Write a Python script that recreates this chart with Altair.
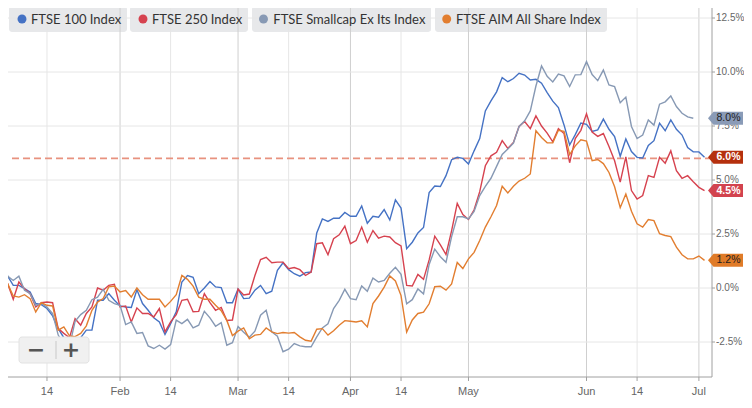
import altair as alt
import pandas as pd

# ---------------- data ----------------
series_names = ["FTSE 100 Index", "FTSE 250 Index", "FTSE Smallcap Ex Its Index", "FTSE AIM All Share Index"]
series_colors = ["#4572C4", "#D6424F", "#8799B4", "#E27E30"]

# trading-day index 0 = 2 Jan 2024; values in % change since start
ftse100 = [0.0, 0.12, 0.55, 0.12, 0.12, -0.03, -0.18, -0.72, -0.77, -0.95,
           -1.29, -1.88, -2.3, -2.5, -2.4, -2.3, -1.95, -1.95, -0.57, -0.57,
           -0.26, -0.57, -0.83, -0.88, -0.9, -0.08, -0.72, -1.03, -1.38, -1.57,
           -2.15, -1.65, -1.1, 0.28, 0.58, 0.5, -0.26, 0.0, 0.3, 0.05,
           0.02, -0.68, -0.68, -0.05, -0.49, -0.47, -0.1, 0.12, -0.26, -0.15,
           0.82, 1.17, 0.85, 0.66, 0.55, 0.71, 0.74, 2.55, 3.2, 3.08,
           3.23, 3.23, 3.5, 3.32, 3.32, 3.8, 3.0, 3.32, 3.28, 3.63,
           3.15, 4.08, 3.7, 1.82, 2.12, 2.55, 2.8, 4.42, 4.72, 4.7,
           5.2, 5.94, 6.05, 6.0, 5.74, 6.35, 6.92, 8.2, 8.66, 9.08,
           9.74, 9.55, 9.7, 9.94, 9.86, 9.63, 9.66, 9.48, 9.05, 8.65,
           8.35, 7.55, 6.62, 7.1, 7.64, 7.58, 7.25, 7.32, 7.82, 7.35,
           7.01, 6.1, 6.9, 6.32, 6.05, 6.02, 6.6, 6.82, 7.63, 7.28,
           7.78, 7.35, 7.08, 6.5, 6.3, 6.3, 6.05]
ftse250 = [0.0, 0.09, 0.2, -0.52, 0.28, -0.03, -0.26, -0.88, -0.68, -0.65,
           -0.68, -1.88, -2.1, -2.3, -1.42, -1.72, -1.18, -0.88, 0.0, -0.1,
           0.12, 0.17, -0.88, -0.83, -1.57, -0.92, -1.18, -1.18, -1.34, -0.95,
           -2.03, -1.57, -1.23, -0.57, -0.52, -1.1, -1.08, -0.26, -0.68, -1.03,
           -0.9, -1.5, -1.48, -0.05, -0.32, -0.28, 0.58, 1.32, 1.42, 1.17,
           1.2, 1.2, 0.89, 0.95, 0.85, 0.58, 0.74, 2.05, 2.09, 1.54,
           2.28, 2.46, 2.86, 2.05, 2.2, 2.82, 2.12, 2.66, 2.31, 2.4,
           2.36, 2.1, 1.95, 0.12, 0.09, 0.63, 0.4, 1.3, 2.4, 2.0,
           1.55, 2.66, 3.92, 3.4, 3.17, 3.62, 4.46, 5.66, 6.12, 6.28,
           6.82, 6.46, 6.74, 7.48, 7.71, 7.38, 7.97, 7.5, 7.17, 6.77,
           7.38, 7.15, 5.8, 6.92, 7.3, 8.07, 7.22, 7.02, 7.15, 6.55,
           5.89, 4.9, 6.07, 4.51, 4.12, 4.28, 5.2, 5.12, 6.05, 5.78,
           6.35, 5.43, 5.08, 5.2, 4.92, 4.66, 4.51]
smallcap = [0.0, 0.2, 0.55, 0.35, 0.55, -0.1, -0.26, -0.8, -0.72, -0.88,
            -1.18, -2.18, -2.6, -2.7, -1.54, -1.23, -1.03, -0.54, -0.42, -0.06,
            -0.57, -0.72, -0.8, -1.69, -1.57, -2.1, -2.06, -2.68, -2.8, -2.65,
            -2.83, -2.62, -1.49, -1.65, -1.45, -1.85, -1.72, -1.08, -1.38, -1.77,
            -1.6, -2.65, -2.53, -1.78, -2.05, -2.28, -2.0, -1.26, -1.03, -2.03,
            -2.23, -2.95, -2.83, -2.57, -2.68, -2.72, -2.72, -2.26, -1.85, -1.66,
            -0.95, -0.57, -0.06, -0.49, -0.54, 0.09, -0.15, 0.46, 0.28, 0.35,
            0.68, 0.96, 0.63, -0.73, -0.54, -0.04, -0.27, 1.09, 1.8, 1.45,
            1.19, 2.38, 3.3, 3.3, 3.2, 3.55, 4.28, 4.71, 5.08, 5.63,
            6.18, 6.43, 6.71, 7.48, 7.74, 8.2, 9.35, 10.28, 9.8, 9.54,
            9.9, 9.82, 9.33, 9.87, 9.88, 10.48, 9.88, 9.6, 10.09, 9.4,
            9.32, 8.58, 8.84, 7.48, 6.92, 7.08, 7.78, 7.54, 8.51, 8.62,
            8.89, 8.4, 8.09, 7.92, 7.86]
aim = [0.0, 0.09, 0.2, -0.37, -0.42, -0.31, -0.49, -1.11, -0.68, -0.8,
       -0.83, -1.95, -1.8, -2.22, -2.25, -2.1, -1.75, -1.03, -0.65, -0.49,
       0.05, 0.09, -0.18, -0.12, -0.42, 0.0, -0.31, -0.52, -0.52, -0.52,
       -0.88, -0.62, -0.31, 0.58, 0.4, 0.09, -0.42, -0.52, -0.52, -0.8,
       -1.05, -1.5, -2.2, -2.0, -1.85, -2.35, -2.18, -2.15, -1.85, -2.03,
       -2.11, -2.06, -2.09, -2.06, -2.26, -2.42, -2.46, -1.91, -1.88, -2.18,
       -1.98, -1.72, -1.51, -1.54, -1.57, -1.52, -1.8, -0.72, -0.37, 0.04,
       0.56, 0.33, -0.35, -2.04, -1.48, -1.18, -1.12, -0.73, 0.06, 0.08,
       -0.1, 0.19, 1.18, 0.9, 1.35, 1.65, 2.2, 2.82, 3.3, 3.82,
       4.71, 4.4, 4.71, 4.95, 5.08, 5.28, 7.28, 6.97, 6.72, 6.72,
       7.3, 7.25, 6.18, 6.58, 6.86, 6.8, 5.89, 5.95, 5.76, 5.35,
       4.69, 3.72, 4.35, 3.55, 2.97, 2.82, 3.17, 3.12, 2.51, 2.43,
       2.38, 1.89, 1.54, 1.35, 1.35, 1.48, 1.28]
series_values = [ftse100, ftse250, smallcap, aim]

# end-of-line value tags (label text values as displayed)
end_label_values = [6.0, 4.5, 8.0, 1.2]
tag_fill = ["#B5300E", "#D2434E", "#8A9BB7", "#E07B28"]
tag_text_color = ["#FFFFFF", "#FFFFFF", "#1E1E1E", "#1E1E1E"]
target_level = [6.0]

x_tick_index = [9, 22, 31, 43, 52, 63, 72, 84, 105, 114, 125]
x_tick_labels = ["14", "Feb", "14", "Mar", "14", "Apr", "14", "May", "Jun", "14", "Jul"]
y_tick_values = [-2.5, 0.0, 2.5, 5.0, 7.5, 10.0, 12.5]

# ---------------- layout / style ----------------
W, H = 704, 369
PX_PER_DAY = 5.62
FONT = "Liberation Sans, Arial, sans-serif"
LEG_FONT = "Lato, Open Sans, sans-serif"
AXIS_GRAY = "#A0A0A0"
xs = alt.Scale(domain=[2.064, 2.064 + W / PX_PER_DAY], nice=False, zero=False)
ys = alt.Scale(domain=[-4.12, 12.963], nice=False, zero=False)

legend_box_x0 = [1, 122, 244, 427]
legend_box_x1 = [119, 240, 423, 599]
legend_dot_x = [14, 135, 255.5, 438.7]
legend_text_x = [23, 144, 265.3, 448]

TAG_PATH = "M -1 0 L -0.686 -0.371 L 1 -0.371 L 1 0.371 L -0.686 0.371 Z"

grid_df = pd.DataFrame({"idx": x_tick_index, "label": x_tick_labels})
major_df = grid_df[grid_df["label"] != "14"]
minor_df = grid_df[grid_df["label"] == "14"]
ygrid_df = pd.DataFrame({"v": y_tick_values,
                         "label": [f"{v:.1f}%" for v in y_tick_values]})

X = lambda f: alt.X(f, scale=xs, axis=None)
Y = lambda f: alt.Y(f, scale=ys, axis=None)
one = pd.DataFrame({"a": [0]})

layers = []

# legend boxes (behind grid)
for k in range(4):
    layers.append(
        alt.Chart(one).mark_rect(fill="#E4E5E8", opacity=0.9, cornerRadius=3).encode(
            x=alt.value(legend_box_x0[k]), x2=alt.value(legend_box_x1[k]),
            y=alt.value(-2), y2=alt.value(24))
    )

# grid
layers.append(alt.Chart(minor_df).mark_rule(color="#E6E6E6", strokeWidth=1).encode(x=X("idx:Q")))
layers.append(alt.Chart(major_df).mark_rule(color="#CFCFCF", strokeWidth=1).encode(x=X("idx:Q")))
layers.append(alt.Chart(ygrid_df).mark_rule(color="#E6E6E6", strokeWidth=1).encode(y=Y("v:Q")))

# axes (domain lines, ticks, labels)
layers.append(alt.Chart(one).mark_rule(color=AXIS_GRAY, strokeWidth=1).encode(
    x=alt.value(0), x2=alt.value(W), y=alt.value(H)))
layers.append(alt.Chart(one).mark_rule(color=AXIS_GRAY, strokeWidth=1).encode(
    x=alt.value(W), y=alt.value(0), y2=alt.value(H)))
layers.append(alt.Chart(grid_df).mark_rule(color=AXIS_GRAY, strokeWidth=1).encode(
    x=X("idx:Q"), y=alt.value(H), y2=alt.value(H + 4)))
layers.append(alt.Chart(ygrid_df).mark_rule(color=AXIS_GRAY, strokeWidth=1).encode(
    y=Y("v:Q"), x=alt.value(W), x2=alt.value(W + 3)))
layers.append(alt.Chart(grid_df).mark_text(align="center", baseline="top", font=FONT,
                                           fontSize=11, color="#666666").encode(
    x=X("idx:Q"), y=alt.value(H + 9), text="label:N"))
layers.append(alt.Chart(ygrid_df).mark_text(align="left", baseline="middle", font=FONT,
                                            fontSize=10, color="#666666").encode(
    y=Y("v:Q"), x=alt.value(W + 4), text="label:N"))

# target dashed line
layers.append(alt.Chart(pd.DataFrame({"target": target_level})).mark_rule(
    color="#E8927F", strokeWidth=1.6, strokeDash=[7, 4]).encode(y=Y("target:Q")))

# series lines
for k in range(4):
    vals = series_values[k]
    df = pd.DataFrame({"idx": list(range(len(vals))), "value": vals})
    layers.append(
        alt.Chart(df).mark_line(color=series_colors[k], strokeWidth=1.4, clip=True).encode(
            x=X("idx:Q"), y=Y("value:Q"))
    )

# legend dots and texts
for k in range(4):
    d = pd.DataFrame({"name": [series_names[k]]})
    layers.append(alt.Chart(d).mark_circle(size=80, opacity=1, color=series_colors[k]).encode(
        x=alt.value(legend_dot_x[k]), y=alt.value(11)))
    layers.append(alt.Chart(d).mark_text(align="left", baseline="middle", font=LEG_FONT,
                                         fontSize=13, color="#333333").encode(
        x=alt.value(legend_text_x[k]), y=alt.value(11.5), text="name:N"))

# zoom buttons
btn = pd.DataFrame({"t": ["\u2212", "+"], "bx": [28, 63]})
layers.append(alt.Chart(one).mark_rect(
    fill="#F0F0F0", stroke="#E2E2E2", strokeWidth=1, cornerRadius=3).encode(
    x=alt.value(11), x2=alt.value(81), y=alt.value(329), y2=alt.value(355)))
layers.append(alt.Chart(one).mark_rule(color="#C8C8C8", strokeWidth=1).encode(
    x=alt.value(48), y=alt.value(333), y2=alt.value(351)))
for k in range(2):
    layers.append(alt.Chart(btn.iloc[[k]]).mark_text(
        align="center", baseline="middle", font="DejaVu Sans", fontSize=22,
        fontWeight="bold", color="#555555").encode(
        x=alt.value(btn["bx"].iloc[k]), y=alt.value(342), text="t:N"))

# end tags
tags = pd.DataFrame({
    "name": series_names,
    "value": [v[-1] for v in series_values],
    "label": [f"{v:.1f}%" for v in end_label_values],
    "fill": tag_fill,
    "tcol": tag_text_color,
})
layers.append(alt.Chart(tags).mark_point(shape=TAG_PATH, filled=True, size=1225, opacity=1,
                                         strokeWidth=0).encode(
    x=alt.value(717.5), y=Y("value:Q"), fill=alt.Fill("fill:N", scale=None)))
light = tags[tags["tcol"] == "#FFFFFF"]
dark = tags[tags["tcol"] != "#FFFFFF"]
layers.append(alt.Chart(light).mark_text(align="center", baseline="middle", font=FONT,
                                         fontSize=10.5, fontWeight="bold", color="#FFFFFF").encode(
    x=alt.value(720.5), y=Y("value:Q"), text="label:N"))
layers.append(alt.Chart(dark).mark_text(align="center", baseline="middle", font=FONT,
                                        fontSize=10.5, color="#1E1E1E").encode(
    x=alt.value(720.5), y=Y("value:Q"), text="label:N"))

chart = alt.layer(*layers).properties(
    width=W, height=H,
    autosize=alt.AutoSizeParams(type="none"),
    padding={"left": 0, "top": 0, "right": 32, "bottom": 22},
    background="white",
).configure_view(strokeWidth=0)

chart.save("out.html", embed_options={"renderer": "svg", "actions": False})
